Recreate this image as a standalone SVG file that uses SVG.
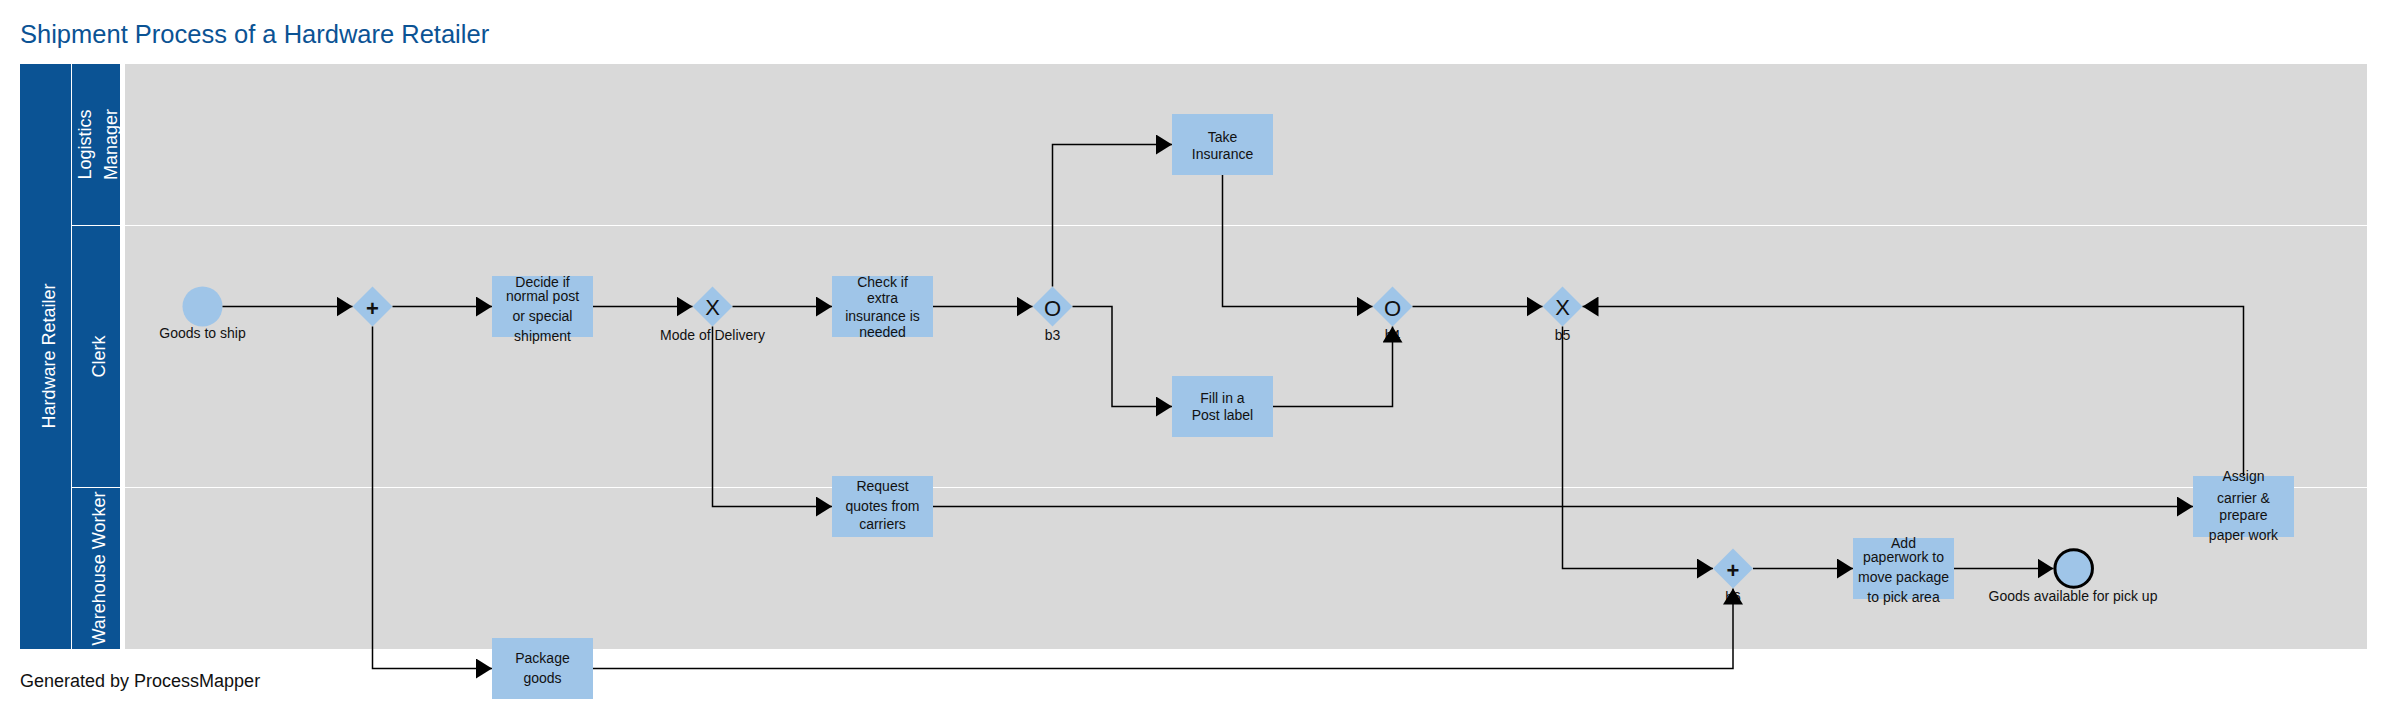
<svg xmlns="http://www.w3.org/2000/svg" width="2382" height="711" viewBox="0 0 2382 711">
<defs>
<style>
.hdr{fill:#0b5394}
.lane{fill:#d9d9d9}
.hl{fill:#fff;font-family:"Liberation Sans",Arial,sans-serif;font-size:18px;text-anchor:middle}
.task{fill:#9fc5e8}
.t{fill:#111;font-family:"Liberation Sans",Arial,sans-serif;font-size:14px;text-anchor:middle}
.gw{fill:#9fc5e8}
.sym{fill:#111;font-family:"Liberation Sans",Arial,sans-serif;font-size:22px;text-anchor:middle}
.plus{fill:#111;font-family:"Liberation Sans",Arial,sans-serif;font-size:22px;font-weight:bold;text-anchor:middle}
.c{fill:none;stroke:#000;stroke-width:1.5;marker-end:url(#arr)}
</style>
<marker id="arr" markerUnits="userSpaceOnUse" markerWidth="16" markerHeight="20" refX="16" refY="10" orient="auto">
<path d="M0,0 L16,10 L0,20 Z" fill="#000"/>
</marker>
</defs>
<rect width="2382" height="711" fill="#fff"/>
<text x="20" y="43" font-family="'Liberation Sans',Arial,sans-serif" font-size="25.5" fill="#0b5394">Shipment Process of a Hardware Retailer</text>

<g id="pool">
<rect class="hdr" x="20" y="64" width="51" height="585"/>
<text class="hl" transform="translate(0,356) rotate(-90)" x="0" y="54.5">Hardware Retailer</text>
</g>
<g id="lane-logistics">
<rect class="hdr" x="72" y="64" width="48" height="161"/>
<rect class="lane" x="125" y="64" width="2242" height="161"/>
<text class="hl" transform="translate(0,144.5) rotate(-90)" x="0" y="90.5">Logistics</text>
<text class="hl" transform="translate(0,144.5) rotate(-90)" x="0" y="116.5">Manager</text>
</g>
<g id="lane-clerk">
<rect class="hdr" x="72" y="226" width="48" height="261"/>
<rect class="lane" x="125" y="226" width="2242" height="261"/>
<text class="hl" transform="translate(0,356.5) rotate(-90)" x="0" y="105">Clerk</text>
</g>
<g id="lane-warehouse">
<rect class="hdr" x="72" y="488" width="48" height="161"/>
<rect class="lane" x="125" y="488" width="2242" height="161"/>
<text class="hl" transform="translate(0,568.5) rotate(-90)" x="0" y="105">Warehouse Worker</text>
</g>

<g id="start">
<circle cx="202.5" cy="306.5" r="20" fill="#9fc5e8"/>
<text class="t" x="202.5" y="338">Goods to ship</text>
</g>
<g id="gw1">
<path class="gw" d="M372.5,286.5 L392.5,306.5 L372.5,326.5 L352.5,306.5 Z"/>
<text class="plus" x="372.5" y="315.5">+</text>
</g>
<g id="decide">
<rect class="task" x="492" y="276" width="101" height="61"/>
<text class="t" x="542.5" y="286.7">Decide if</text>
<text class="t" x="542.5" y="301">normal post</text>
<text class="t" x="542.5" y="321">or special</text>
<text class="t" x="542.5" y="340.7">shipment</text>
</g>
<g id="gw-mode">
<path class="gw" d="M712.5,286.5 L732.5,306.5 L712.5,326.5 L692.5,306.5 Z"/>
<text class="sym" x="712.5" y="315" font-size="21">X</text>
<text class="t" x="712.5" y="339.5">Mode of Delivery</text>
</g>
<g id="check">
<rect class="task" x="832" y="276" width="101" height="61"/>
<text class="t" x="882.5" y="286.7">Check if</text>
<text class="t" x="882.5" y="303.3">extra</text>
<text class="t" x="882.5" y="320.7">insurance is</text>
<text class="t" x="882.5" y="337.3">needed</text>
</g>
<g id="gw-b3">
<path class="gw" d="M1052.5,286.5 L1072.5,306.5 L1052.5,326.5 L1032.5,306.5 Z"/>
<text class="sym" x="1052.5" y="315.5">O</text>
<text class="t" x="1052.5" y="339.5">b3</text>
</g>
<g id="take">
<rect class="task" x="1172" y="114" width="101" height="61"/>
<text class="t" x="1222.5" y="141.7">Take</text>
<text class="t" x="1222.5" y="159">Insurance</text>
</g>
<g id="fill">
<rect class="task" x="1172" y="376" width="101" height="61"/>
<text class="t" x="1222.5" y="403.3">Fill in a</text>
<text class="t" x="1222.5" y="420">Post label</text>
</g>
<g id="gw-b4">
<path class="gw" d="M1392.5,286.5 L1412.5,306.5 L1392.5,326.5 L1372.5,306.5 Z"/>
<text class="sym" x="1392.5" y="315.5">O</text>
<text class="t" x="1392.5" y="339.5">b4</text>
</g>
<g id="gw-b5">
<path class="gw" d="M1562.5,286.5 L1582.5,306.5 L1562.5,326.5 L1542.5,306.5 Z"/>
<text class="sym" x="1562.5" y="315" font-size="21">X</text>
<text class="t" x="1562.5" y="339.5">b5</text>
</g>
<g id="request">
<rect class="task" x="832" y="476" width="101" height="61"/>
<text class="t" x="882.5" y="490.7">Request</text>
<text class="t" x="882.5" y="510.7">quotes from</text>
<text class="t" x="882.5" y="528.7">carriers</text>
</g>
<g id="package">
<rect class="task" x="492" y="638" width="101" height="61"/>
<text class="t" x="542.5" y="663.3">Package</text>
<text class="t" x="542.5" y="683.3">goods</text>
</g>
<g id="assign">
<rect class="task" x="2193" y="476" width="101" height="61"/>
<text class="t" x="2243.5" y="480.7">Assign</text>
<text class="t" x="2243.5" y="503.3">carrier &amp;</text>
<text class="t" x="2243.5" y="520">prepare</text>
<text class="t" x="2243.5" y="540">paper work</text>
</g>
<g id="gw-b6">
<path class="gw" d="M1733,548.5 L1753,568.5 L1733,588.5 L1713,568.5 Z"/>
<text class="plus" x="1733" y="577.5">+</text>
<text class="t" x="1733" y="601.5">b6</text>
</g>
<g id="add">
<rect class="task" x="1853" y="538" width="101" height="61"/>
<text class="t" x="1903.5" y="548.3">Add</text>
<text class="t" x="1903.5" y="562.3">paperwork to</text>
<text class="t" x="1903.5" y="582.3">move package</text>
<text class="t" x="1903.5" y="602.3">to pick area</text>
</g>
<g id="end">
<circle cx="2073.7" cy="568.5" r="18.75" fill="#9fc5e8" stroke="#000" stroke-width="3"/>
<text class="t" x="2073" y="600.7">Goods available for pick up</text>
</g>

<g id="connectors">
<path class="c" d="M222.5,306.5 H352.5"/>
<path class="c" d="M392.5,306.5 H492"/>
<path class="c" d="M372.5,326.5 V668.5 H492"/>
<path class="c" d="M593,306.5 H692.5"/>
<path class="c" d="M732.5,306.5 H832"/>
<path class="c" d="M712.5,326.5 V506.5 H832"/>
<path class="c" d="M933,306.5 H1032.5"/>
<path class="c" d="M1052.5,286.5 V144.5 H1172"/>
<path class="c" d="M1072.5,306.5 H1112 V406.5 H1172"/>
<path class="c" d="M1222.5,175 V306.5 H1372.5"/>
<path class="c" d="M1273,406.5 H1392.5 V326.5"/>
<path class="c" d="M1412.5,306.5 H1542.5"/>
<path class="c" d="M2243.5,476 V306.5 H1582.5"/>
<path class="c" d="M933,506.5 H2193"/>
<path class="c" d="M1562.5,326.5 V568.5 H1713"/>
<path class="c" d="M593,668.5 H1733 V588.5"/>
<path class="c" d="M1753,568.5 H1853"/>
<path class="c" d="M1954,568.5 H2053.5"/>
</g>

<text x="20" y="686.7" font-family="'Liberation Sans',Arial,sans-serif" font-size="18" fill="#111">Generated by ProcessMapper</text>
</svg>
